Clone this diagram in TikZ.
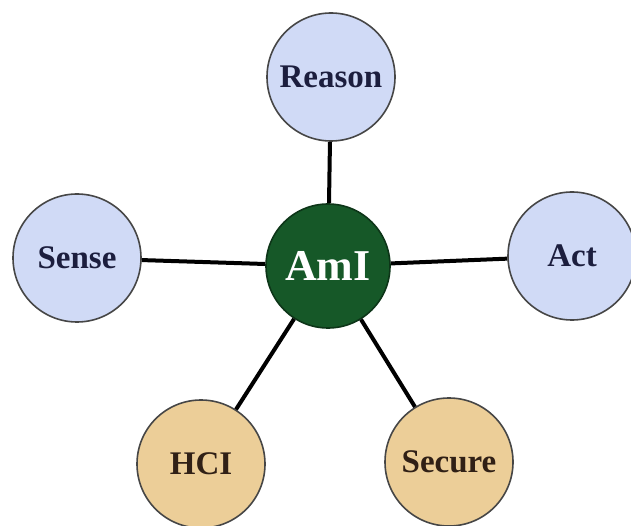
\documentclass[tikz,border=0pt]{standalone}
\usepackage{fontspec}
\setmainfont{Liberation Serif}
\usepackage{xcolor}
\definecolor{amigreen}{RGB}{22, 88, 40}
\definecolor{skyblue}{RGB}{208, 218, 246}
\definecolor{sandtan}{RGB}{236, 206, 152}
\definecolor{inkblue}{RGB}{28, 30, 62}
\definecolor{inkbrown}{RGB}{48, 32, 22}
\definecolor{rimgray}{RGB}{70, 70, 70}
\tikzset{
    circ/.style={
        circle, inner sep=0pt, minimum size=128pt,
        draw=rimgray, line width=1.6pt,
        font=\fontsize{33}{38}\selectfont\bfseries, align=center
    },
    bluecirc/.style={circ, fill=skyblue, text=inkblue},
    tancirc/.style={circ, fill=sandtan, text=inkbrown},
    hubcirc/.style={circ, minimum size=124pt, fill=amigreen, draw=amigreen!60!black,
        text=white, font=\fontsize{44}{50}\selectfont\bfseries},
    link/.style={line width=4pt, color=black},
}
\begin{document}
\begin{tikzpicture}[x=1pt, y=1pt]
    \useasboundingbox (0, 0) rectangle (631, 525);

    \node[hubcirc] (ami) at (328, 259) {AmI};

    \node[bluecirc] (reason) at (331, 448) {Reason};
    \node[bluecirc] (sense) at (77, 267) {Sense};
    \node[bluecirc] (act) at (572, 269) {Act};

    \node[tancirc] (hci) at (201, 61) {HCI};
    \node[tancirc] (secure) at (449, 63) {Secure};

    \draw[link] (ami) -- (reason);
    \draw[link] (ami) -- (sense);
    \draw[link] (ami) -- (act);
    \draw[link] (ami) -- (hci);
    \draw[link] (ami) -- (secure);
\end{tikzpicture}
\end{document}
